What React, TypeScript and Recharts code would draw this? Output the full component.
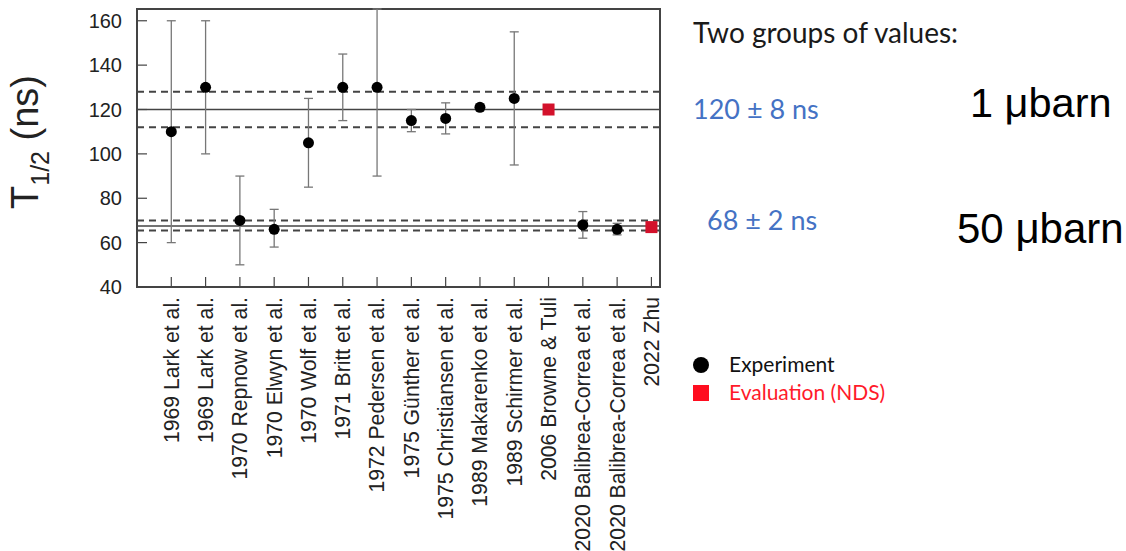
import React from 'react';
import { ScatterChart, Scatter, XAxis, YAxis, ErrorBar, ReferenceLine, ReferenceArea } from 'recharts';

// measurements, in the order of the x axis
const studies = [
  '1969 Lark et al.',
  '1969 Lark et al.',
  '1970 Repnow et al.',
  '1970 Elwyn et al.',
  '1970 Wolf et al.',
  '1971 Britt et al.',
  '1972 Pedersen et al.',
  '1975 Günther et al.',
  '1975 Christiansen et al.',
  '1989 Makarenko et al.',
  '1989 Schirmer et al.',
  '2006 Browne & Tuli',
  '2020 Balibrea-Correa et al.',
  '2020 Balibrea-Correa et al.',
  '2022 Zhu',
];

const experimentPos = [1, 2, 3, 4, 5, 6, 7, 8, 9, 10, 11, 13, 14];
const experimentHalfLife = [110, 130, 70, 66, 105, 130, 130, 115, 116, 121, 125, 68, 66];
const experimentLow = [60, 100, 50, 58, 85, 115, 90, 110, 109, 119.5, 95, 62, 63.5];
// Pedersen's upper limit runs off the top of the frame
const experimentHigh = [160, 160, 90, 75, 125, 145, 165.3, 120, 123, 122.5, 155, 74, 68.7];

const evaluationPos = [12, 15];
const evaluationHalfLife = [120, 67];

const groupMeans = [120, 67.5];
const groupLimits = [112, 128, 65.5, 70];

const yTicks = [40, 60, 80, 100, 120, 140, 160];
const xTicks = studies.map((_, i) => i + 1);

const experimentData = experimentPos.map((x, i) => ({
  x,
  y: experimentHalfLife[i],
  err: [experimentHalfLife[i] - experimentLow[i], experimentHigh[i] - experimentHalfLife[i]],
}));
const evaluationData = evaluationPos.map((x, i) => ({ x, y: evaluationHalfLife[i] }));

const X_MAX = 15.25;
const Y_MIN = 40;
const Y_MAX = 165.3;
const FRAME = '#444';

const Dot = (props: any) => <circle cx={props.cx} cy={props.cy} r={5.5} fill="#000" />;
const RedSquare = (props: any) => (
  <rect x={props.cx - 6} y={props.cy - 6} width={12} height={12} fill="#d3112b" />
);

const StudyTick = ({ x, y, payload }: any) => (
  <text
    x={x}
    y={y}
    dy="0.35em"
    textAnchor="end"
    transform={`rotate(-90, ${x}, ${y})`}
    fontSize={21.2}
    fontFamily="'Liberation Sans', Arial, sans-serif"
    fill="#222"
  >
    {studies[payload.value - 1]}
  </text>
);

const YLabel = ({ viewBox }: any) => {
  const x = viewBox.x + 38;
  const y = viewBox.y + viewBox.height / 2 - 6;
  return (
    <text
      x={x}
      y={y}
      textAnchor="middle"
      transform={`rotate(-90, ${x}, ${y})`}
      fontSize={38}
      fontFamily="'Liberation Sans', Arial, sans-serif"
      fill="#222"
    >
      T
      <tspan fontSize={25} dy={11}>1/2</tspan>
      <tspan dy={-11}> (ns)</tspan>
    </text>
  );
};

export default function App() {
  return (
    <div style={{ position: 'absolute', left: 0, top: 0, width: 1126, height: 551, background: '#fff' }}>
      <ScatterChart width={680} height={551} margin={{ top: 9, right: 20, bottom: 0, left: 0 }}>
        <XAxis
          type="number"
          dataKey="x"
          domain={[0, X_MAX]}
          ticks={xTicks}
          interval={0}
          height={264}
          axisLine={false}
          tickSize={-10}
          tickMargin={20}
          tickLine={{ stroke: FRAME, strokeWidth: 1.2 }}
          tick={<StudyTick />}
        />
        <YAxis
          type="number"
          dataKey="y"
          domain={[Y_MIN, Y_MAX]}
          allowDataOverflow
          ticks={yTicks}
          width={137}
          axisLine={false}
          tickSize={-10}
          tickMargin={25}
          tickLine={{ stroke: FRAME, strokeWidth: 1.2 }}
          tick={{ fontSize: 20, fill: '#222', fontFamily: "'Liberation Sans', Arial, sans-serif" }}
          label={{ content: YLabel }}
        />
        <ReferenceArea
          x1={0}
          x2={X_MAX}
          y1={Y_MIN}
          y2={Y_MAX}
          fill="none"
          stroke={FRAME}
          strokeWidth={2}
          ifOverflow="visible"
        />
        {groupMeans.map((v) => (
          <ReferenceLine key={'m' + v} y={v} stroke={FRAME} strokeWidth={1.6} />
        ))}
        {groupLimits.map((v) => (
          <ReferenceLine key={'l' + v} y={v} stroke={FRAME} strokeWidth={2} strokeDasharray="7 5" />
        ))}
        <Scatter data={experimentData} shape={Dot} isAnimationActive={false}>
          <ErrorBar dataKey="err" direction="y" width={4.5} stroke="#777" strokeWidth={1.3} />
        </Scatter>
        <Scatter data={evaluationData} shape={RedSquare} isAnimationActive={false} />
      </ScatterChart>

      <svg width={1126} height={551} style={{ position: 'absolute', left: 0, top: 0, pointerEvents: 'none' }}>
        <g fontFamily="Lato, 'Open Sans', sans-serif">
          <text x={693} y={43} fontSize={28} fill="#1a1a1a">Two groups of values:</text>
          <text x={693} y={119} fontSize={27} fill="#4472c4">120 ± 8 ns</text>
          <text x={707} y={230} fontSize={27} fill="#4472c4">68 ± 2 ns</text>
          <circle cx={701} cy={365} r={8} fill="#000" />
          <text x={729} y={372} fontSize={21} fill="#111">Experiment</text>
          <rect x={693} y={385} width={16} height={16} fill="#ff0d1f" />
          <text x={729} y={400} fontSize={21} fill="#ff1a2a">Evaluation (NDS)</text>
        </g>
        <g fontFamily="'Liberation Sans', Arial, sans-serif" fill="#000">
          <text x={970} y={117} fontSize={41.5}>1 μbarn</text>
          <text x={957} y={243} fontSize={42}>50 μbarn</text>
        </g>
      </svg>
    </div>
  );
}
